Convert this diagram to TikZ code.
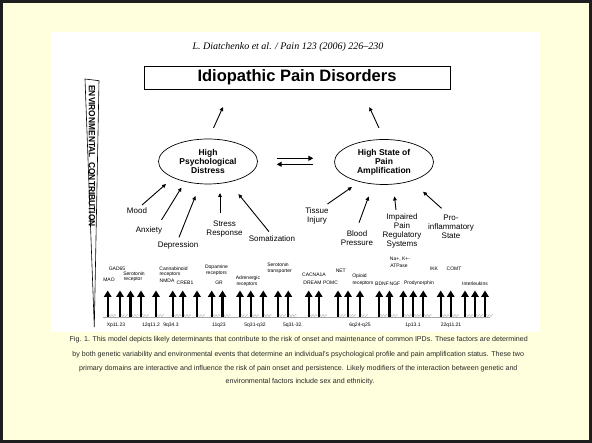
\documentclass[tikz,border=0pt]{standalone}
\usepackage{fontspec}
\setmainfont{Liberation Sans}
\newfontfamily\hdrfont[Ligatures=TeX]{Liberation Serif}
\usetikzlibrary{arrows.meta,shapes.geometric}
\definecolor{bgyellow}{RGB}{255,255,221}
\definecolor{framecol}{RGB}{30,30,30}
\begin{document}
\begin{tikzpicture}[x=1pt,y=-1pt,
  lbl/.style={inner sep=0pt, align=center, font=\fontsize{8}{9}\selectfont},
  genelbl/.style={inner sep=0pt, font=\fontsize{5}{5.5}\selectfont},
  chromlbl/.style={inner sep=0pt, font=\fontsize{5}{5.5}\selectfont},
  caplbl/.style={inner sep=0pt, text=black!85, font=\fontsize{7.1}{8}\selectfont},
  domainbox/.style={ellipse, draw, line width=0.7pt, minimum width=99pt, minimum height=45pt, inner sep=0pt, align=center, font=\bfseries\fontsize{8.5}{9}\selectfont},
  thinarrow/.style={line width=0.9pt, -{Triangle[width=3.6pt,length=4pt]}},
  dblarrow/.style={line width=1.5pt, -{Triangle[width=5pt,length=5pt]}},
  genearrow/.style={line width=2.3pt, -{Triangle[width=7.5pt,length=6.5pt]}}
]
\useasboundingbox (0,0) rectangle (592,443);
\fill[bgyellow] (0,0) rectangle (592,443);
\draw[framecol, line width=3pt] (1.5,1.5) rectangle (590.5,441.5);
\fill[white] (51,32) rectangle (540,332.5);

% header
\node[inner sep=0pt, font=\hdrfont\itshape\fontsize{10}{12}\selectfont] (hdr) at (288,46.7) {L. Diatchenko et al. / Pain 123 (2006) 226–230};

% title box
\node[draw, line width=0.7pt, minimum width=306pt, minimum height=23.3pt, inner sep=0pt, font=\bfseries\fontsize{16.5}{18}\selectfont] (title) at (297,77.7) {Idiopathic Pain Disorders};

% environmental triangle
\draw[line width=0.6pt] (85,79) -- (99,80.7) -- (94.3,327) -- cycle;
\node[rotate=-90, inner sep=0pt, font=\bfseries\fontsize{9}{9}\selectfont, xscale=0.93] (env) at (92,156) {ENVIRONMENTAL\ \ CONTRIBUTION};

% domain ellipses
\node[domainbox] (psy) at (208,161.5) {High\\Psychological\\Distress};
\node[domainbox] (amp) at (384,162) {High State of\\Pain\\Amplification};

% arrows to title
\coordinate (psyUp) at (213.5,128);
\coordinate (ttlL) at (223,107);
\coordinate (ampUp) at (379,128);
\coordinate (ttlR) at (369.3,107);
\draw[thinarrow] (psyUp) -- (ttlL);
\draw[thinarrow] (ampUp) -- (ttlR);

% interaction arrows
\coordinate (iaL1) at (276.7,158.3);
\coordinate (iaR1) at (313.3,158.3);
\coordinate (iaL2) at (276.7,164.3);
\coordinate (iaR2) at (313.3,164.3);
\draw[dblarrow] (iaL1) -- (iaR1);
\draw[dblarrow] (iaR2) -- (iaL2);

% psychological factors
\node[lbl] (mood) at (137,211) {Mood};
\node[lbl] (anx) at (149,230) {Anxiety};
\node[lbl] (dep) at (178,245.7) {Depression};
\node[lbl] (stress) at (224.5,228.8) {Stress\\Response};
\node[lbl] (som) at (272,239) {Somatization};
\coordinate (moodT) at (142,205);   \coordinate (moodH) at (166,184);
\coordinate (anxT) at (161.5,220);  \coordinate (anxH) at (181.5,187.5);
\coordinate (depT) at (179,237.3);  \coordinate (depH) at (195.5,196);
\coordinate (strT) at (220,213.3);  \coordinate (strH) at (220,193);
\coordinate (somT) at (269,231.7);  \coordinate (somH) at (238.4,194);
\draw[thinarrow] (moodT) -- (moodH);
\draw[thinarrow] (anxT) -- (anxH);
\draw[thinarrow] (depT) -- (depH);
\draw[thinarrow] (strT) -- (strH);
\draw[thinarrow] (somT) -- (somH);

% pain amplification factors
\node[lbl] (tis) at (317,215.8) {Tissue\\Injury};
\node[lbl] (bp) at (357,238.3) {Blood\\Pressure};
\node[lbl] (imp) at (402,230.8) {Impaired\\Pain\\Regulatory\\Systems};
\node[lbl] (pro) at (451,226.5) {Pro-\\inflammatory\\State};
\coordinate (tisT) at (327.5,204);  \coordinate (tisH) at (352,187);
\coordinate (bpT) at (359,222.7);   \coordinate (bpH) at (368.7,196.4);
\coordinate (impT) at (396,210);    \coordinate (impH) at (394.5,196.4);
\coordinate (proT) at (441.5,208.3);\coordinate (proH) at (423,191.7);
\draw[thinarrow] (tisT) -- (tisH);
\draw[thinarrow] (bpT) -- (bpH);
\draw[thinarrow] (impT) -- (impH);
\draw[thinarrow] (proT) -- (proH);

% gene baseline
\coordinate (baseL) at (103,317);
\coordinate (baseR) at (490,317);
\draw[gray!70, line width=0.6pt] (baseL) -- (baseR);
\foreach \gx in {107.7,120,130.5,141,156,172.7,182.7,197,211.7,222.5,240,250.7,263.3,278,288.3,308.7,318.7,338,348,360,379.3,389.5,403.3,413.3,423.3,440.7,450.7,465,475,485}{
  \draw[gray!60, line width=0.4pt] plot[variable=\t, domain=0:9, samples=19, smooth] ({\gx-1+\t},{315.5+1.1*sin(\t*120)});
  \draw[genearrow] (\gx,317) -- (\gx,290.5);
}

% gene labels
\node[genelbl] (g1) at (117,269) {GAD65};
\node[genelbl] (g2) at (109,280) {MAO};
\node[genelbl] (g3) at (134,274) {Serotonin};
\node[genelbl] (g4) at (133,279.5) {receptor};
\node[genelbl] (g5) at (173.5,268.3) {Cannabinoid};
\node[genelbl] (g6) at (170,274) {receptors};
\node[genelbl] (g7) at (167,280.5) {NMDA};
\node[genelbl] (g8) at (185,282.7) {CREB1};
\node[genelbl] (g9) at (216.5,267.7) {Dopamine};
\node[genelbl] (g10) at (216.5,273.3) {receptors};
\node[genelbl] (g11) at (219,282.3) {GR};
\node[genelbl] (g12) at (248,278.3) {Adrenergic};
\node[genelbl] (g13) at (247,284.3) {receptors};
\node[genelbl] (g14) at (278,265) {Serotonin};
\node[genelbl] (g15) at (279.7,271.7) {transporter};
\node[genelbl] (g16) at (314,274.3) {CACNA1A};
\node[genelbl] (g17) at (312.5,282.7) {DREAM};
\node[genelbl] (g18) at (340.8,271) {NET};
\node[genelbl] (g19) at (330.5,282.7) {POMC};
\node[genelbl] (g20) at (359.5,276.7) {Opioid};
\node[genelbl] (g21) at (363,283.3) {receptors};
\node[genelbl] (g22) at (382,283.3) {BDNF};
\node[genelbl] (g23) at (400,259) {Na+, K+-};
\node[genelbl] (g24) at (399,265.7) {ATPase};
\node[genelbl] (g25) at (395,283.3) {NGF};
\node[genelbl] (g26) at (434,268.3) {IKK};
\node[genelbl] (g27) at (419,283.3) {Prodynorphin};
\node[genelbl] (g28) at (454,268.3) {COMT};
\node[genelbl] (g29) at (475,283.3) {Interleukins};

% chromosome labels
\node[chromlbl] (c1) at (116,325.7) {Xp11.23};
\node[chromlbl] (c2) at (151,325.7) {12q11.2};
\node[chromlbl] (c3) at (171,325.7) {9q34.3};
\node[chromlbl] (c4) at (219,325.7) {11q23};
\node[chromlbl] (c5) at (255,325.7) {5q31-q32};
\node[chromlbl] (c6) at (293,325.7) {5q31-32.};
\node[chromlbl] (c7) at (360,325.7) {6q24-q25};
\node[chromlbl] (c8) at (413,325.7) {1p13.1};
\node[chromlbl] (c9) at (451,325.7) {22q11.21};

% caption
\node[caplbl] (cap1) at (298.7,340) {Fig. 1. This model depicts likely determinants that contribute to the risk of onset and maintenance of common IPDs. These factors are determined};
\node[caplbl] (cap2) at (298.3,354.3) {by both genetic variability and environmental events that determine an individual's psychological profile and pain amplification status. These two};
\node[caplbl] (cap3) at (298.3,368.3) {primary domains are interactive and influence the risk of pain onset and persistence. Likely modifiers of the interaction between genetic and};
\node[caplbl] (cap4) at (300,381.7) {environmental factors include sex and ethnicity.};
\end{tikzpicture}
\end{document}
